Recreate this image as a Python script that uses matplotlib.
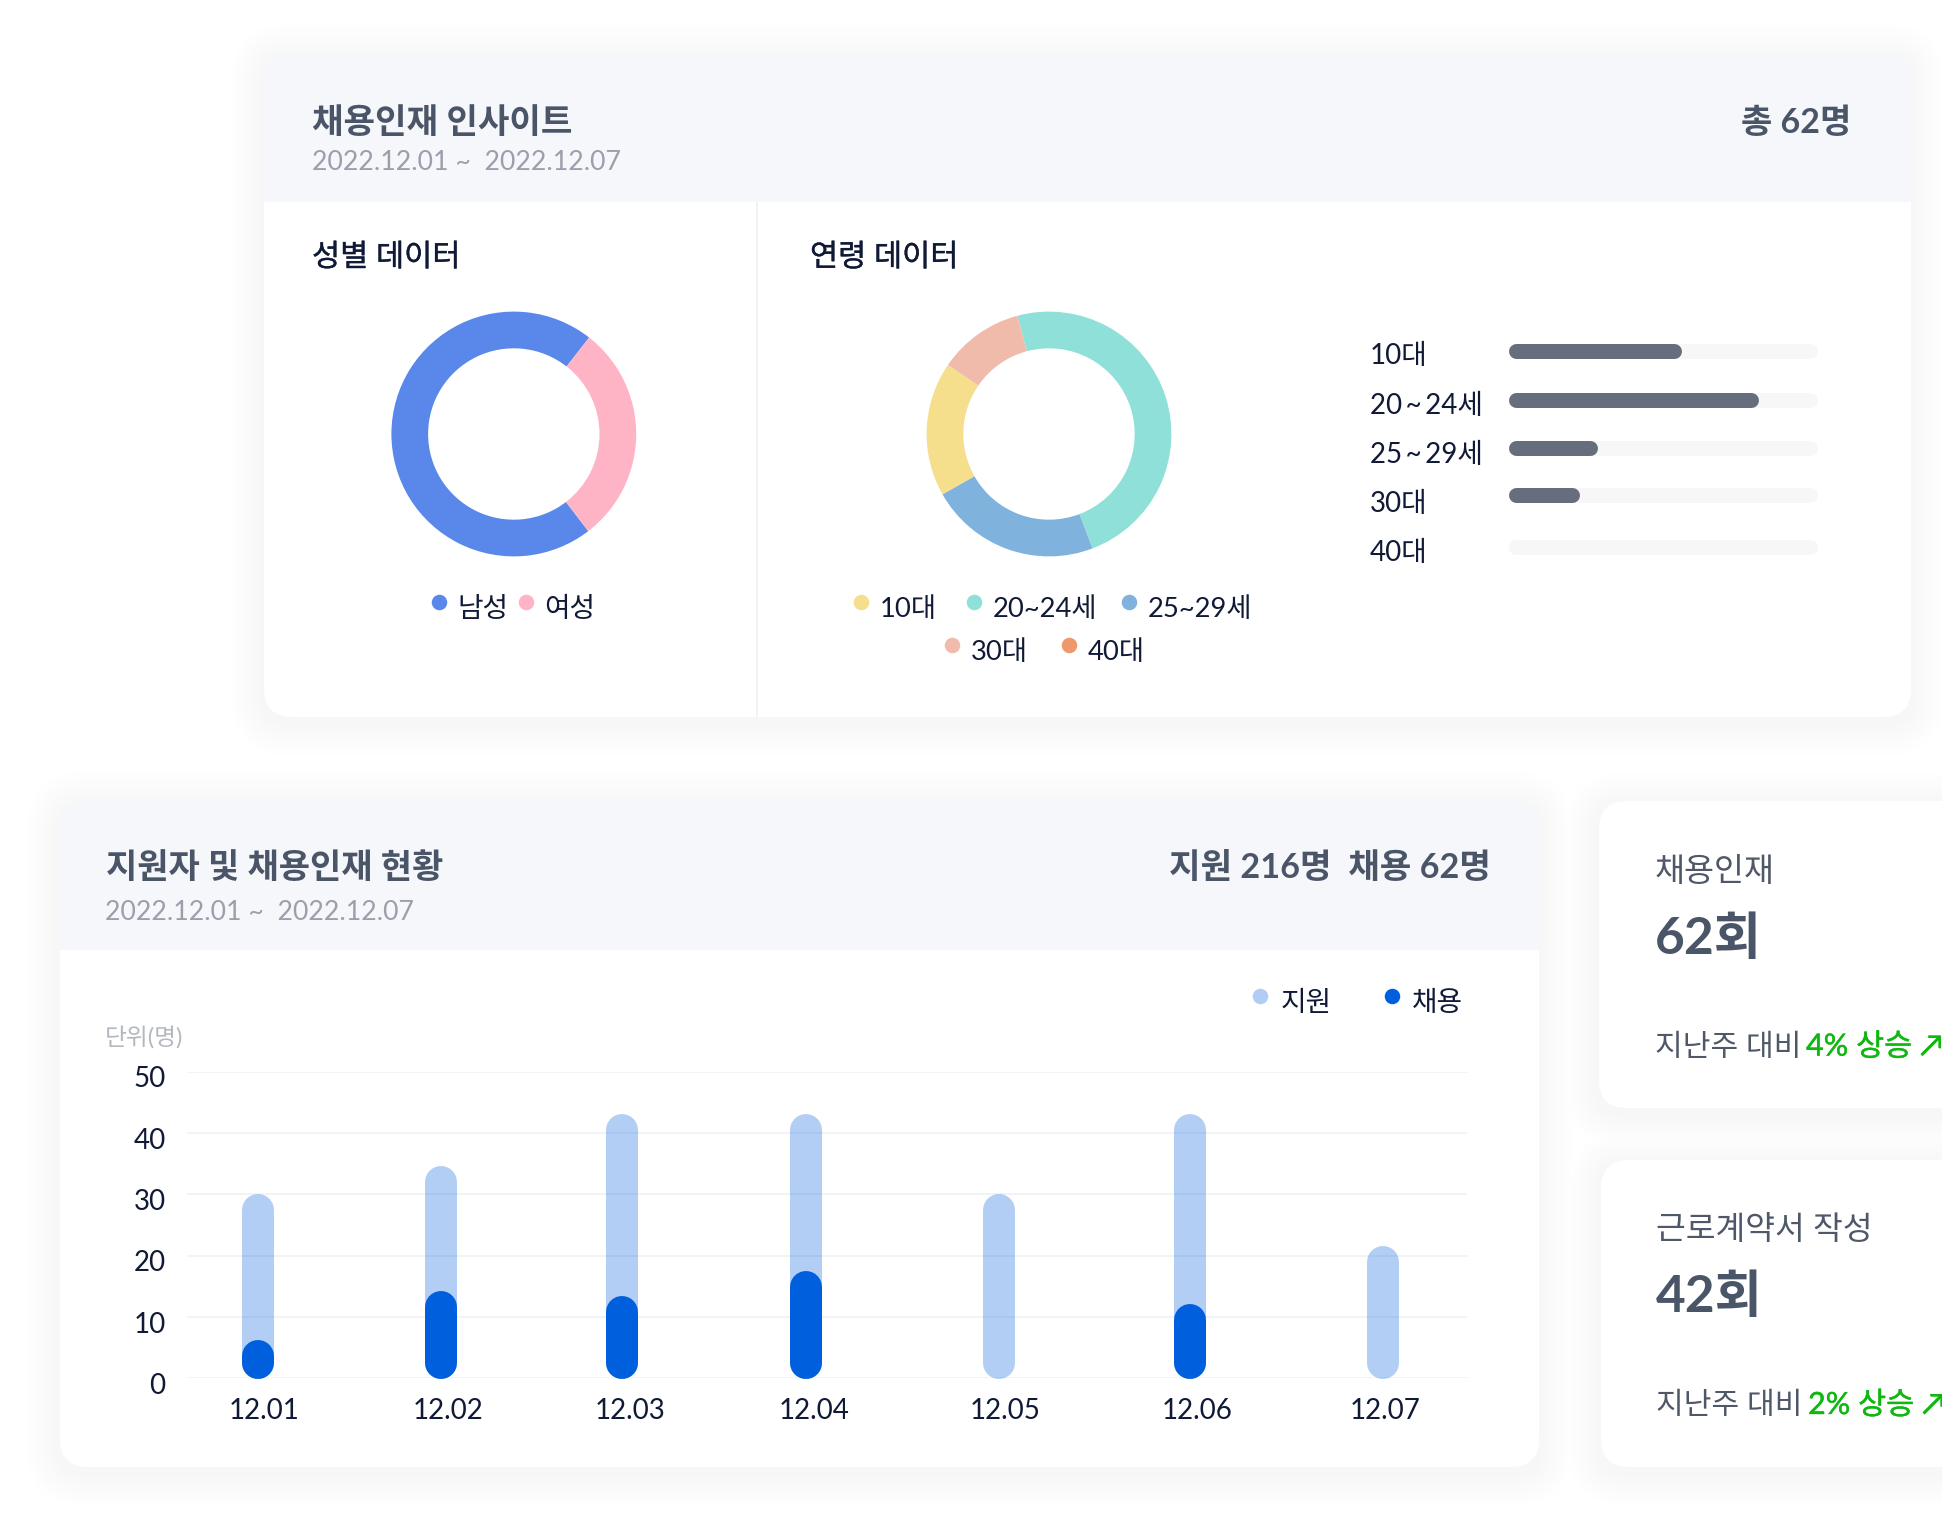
import matplotlib
matplotlib.use('Agg')
import matplotlib.pyplot as plt
import matplotlib.patheffects as pe
from matplotlib.patches import FancyBboxPatch, Rectangle
from matplotlib.transforms import ScaledTranslation

plt.rcParams['font.family'] = ['Lato', 'Noto Sans CJK KR', 'DejaVu Sans']

W, H = 1942, 1536
DPI = 100

# data
gender_labels = ['남성', '여성']
gender_counts = [44, 18]
age_labels = ['10대', '20~24세', '25~29세', '30대', '40대']
age_counts = [11, 30, 14, 7, 0]
age_bar_labels = ['10대', '20\u2009~\u200924세', '25\u2009~\u200929세', '30대', '40대']
age_bar_values = [56, 81, 29, 23, 0]
days = ['12.01', '12.02', '12.03', '12.04', '12.05', '12.06', '12.07']
applied = [30, 34.5, 43, 43, 30, 43, 21.5]
hired = [6.2, 14.2, 13.5, 17.5, 0, 12.1, 0]
y_ticks = [0, 10, 20, 30, 40, 50]

# colours
HEAD = '#f6f7fb'
TITLE = '#4a5568'
DARK = '#101a36'
GREY = '#9a9fac'
GREEN = '#0fb80f'
gender_colors = ['#5a88ea', '#ffb4c6']
age_colors = ['#f5de8c', '#8fe0d8', '#7fb2dd', '#f0bbab', '#ee996c']
BLUE = '#005fdd'
# shadow steps, outermost first
shadow_colors = ['#fefefe', '#fdfdfe', '#fcfcfd', '#fbfbfc', '#fafafb', '#f9f9fa', '#f8f8f9', '#f7f7f8']

# spacing in the picture is a bit uneven, these are small layout offsets
day_nudge = [0, -0.02, -0.054, -0.075, -0.046, -0.025, 0]
day_label_nudge = [0.035, 0.036, 0.038, 0.043, 0.032, 0.037, 0.015]
row_nudge = [0, 0, -0.02, -0.055, 0]

fig = plt.figure(figsize=(W / DPI, H / DPI), dpi=DPI, facecolor='white')
bg = fig.add_axes([0, 0, 1, 1])
bg.set_xlim(0, W)
bg.set_ylim(H, 0)
bg.axis('off')


def px(v):
    # pixels to points
    return v * 72 / DPI


def sub_axes(x0, y0, x1, y1):
    ax = fig.add_axes([x0 / W, 1 - y1 / H, (x1 - x0) / W, (y1 - y0) / H])
    ax.patch.set_alpha(0)
    return ax


def shadows(cards):
    # each step over all cards, so a darker step is never covered by a lighter one
    for i, color in enumerate(shadow_colors):
        grow = (len(shadow_colors) - i) * 4.2
        for x0, y0, x1, y1 in cards:
            bg.add_patch(FancyBboxPatch((x0 - grow, y0 - grow + 5), x1 - x0 + 2 * grow, y1 - y0 + 2 * grow,
                                        boxstyle=f'round,pad=0,rounding_size={28 + grow}',
                                        fc=color, ec='none', zorder=1))


def card(x0, y0, x1, y1, head_bottom=None):
    box = FancyBboxPatch((x0, y0), x1 - x0, y1 - y0, boxstyle='round,pad=0,rounding_size=28',
                         fc='white', ec='none', zorder=2)
    bg.add_patch(box)
    if head_bottom is not None:
        head = Rectangle((x0, y0), x1 - x0, head_bottom - y0, fc=HEAD, ec='none', zorder=3)
        bg.add_patch(head)
        head.set_clip_path(box)


def txt(x, y, s, size, color=DARK, weight='normal', ha='left', heavy=0):
    t = bg.text(x, y, s, fontsize=size, color=color, fontweight=weight, ha=ha, va='baseline', zorder=5)
    if heavy:
        # the reference hangul is a medium weight, thicken the regular one a little
        t.set_path_effects([pe.withStroke(linewidth=heavy, foreground=color)])


def dot(x, y, color):
    bg.scatter([x], [y], s=px(15.5) ** 2, color=color, linewidths=0, zorder=5)


shadows([(264, 52, 1911, 717), (60, 800, 1539, 1467), (1599, 801, 2100, 1108), (1601, 1160, 2100, 1467)])
card(264, 52, 1911, 717, 202)
card(60, 800, 1539, 1467, 950)
card(1599, 801, 2100, 1108)
card(1601, 1160, 2100, 1467)

# top card
bg.plot([757, 757], [202, 717], color='#f1f2f6', lw=px(2), zorder=4, solid_capstyle='butt')
txt(312, 132.5, '채용인재 인사이트', 24.7, TITLE, 'bold')
txt(312, 170, '2022.12.01 ~  2022.12.07', 19.2, GREY)
txt(1851, 132.5, '총 62명', 24.5, TITLE, 'bold', ha='right')
txt(312, 266, '성별 데이터', 22, DARK, heavy=0.25)
txt(810, 266, '연령 데이터', 22, DARK, heavy=0.25)

R = 122.4
ax = sub_axes(513.8 - R, 434 - R, 513.8 + R, 434 + R)
ax.pie(gender_counts, colors=gender_colors, startangle=52, radius=1,
       wedgeprops={'width': 0.3, 'linewidth': 0})
ax.set_xlim(-1, 1)
ax.set_ylim(-1, 1)

ax = sub_axes(1049 - R, 434 - R, 1049 + R, 434 + R)
order = [1, 2, 0, 3, 4]
ax.pie([age_counts[i] for i in order], colors=[age_colors[i] for i in order],
       startangle=105, counterclock=False, radius=1, wedgeprops={'width': 0.3, 'linewidth': 0})
ax.set_xlim(-1, 1)
ax.set_ylim(-1, 1)

for i, (dx, tx) in enumerate(zip([439.3, 526], [457, 544.5])):
    dot(dx, 602, gender_colors[i])
    txt(tx, 617, gender_labels[i], 20, DARK)

age_legend = [(860.7, 880, 602, 617), (973.5, 993, 602, 617), (1129, 1148, 602, 617),
              (951.5, 971, 645, 659.6), (1068.8, 1088, 645, 659.6)]
for i, (dx, tx, dy, ty) in enumerate(age_legend):
    dot(dx, dy, age_colors[i])
    txt(tx, ty, age_labels[i], 19.7, DARK)

# age progress bars
ax = sub_axes(1508, 326.2, 1817, 571.2)
ax.set_xlim(0, 100)
ax.set_ylim(4.5, -0.5)
ax.axis('off')
cap = 7.5 / 309 * 100
for i, v in enumerate(age_bar_values):
    row = i + row_nudge[i]
    ax.plot([cap, 100 - cap], [row, row], color='#f7f7f8', lw=px(15), solid_capstyle='round', clip_on=False)
    if v > 0:
        ax.plot([cap, v - cap], [row, row], color='#666e7d', lw=px(15), solid_capstyle='round', clip_on=False)
    txt(1370, 364.5 + 49.1 * i, age_bar_labels[i], 20, DARK)

# bottom card
txt(106, 878, '지원자 및 채용인재 현황', 24.5, TITLE, 'bold')
txt(105, 920, '2022.12.01 ~  2022.12.07', 19.2, GREY)
txt(1490.5, 878, '지원 216명  채용 62명', 24.7, TITLE, 'bold', ha='right')
txt(105, 1045, '단위(명)', 17.1, '#b3b7c0')
dot(1260, 996, '#b2cdf5')
txt(1280.5, 1011, '지원', 20, DARK)
dot(1391.8, 996, BLUE)
txt(1412, 1011, '채용', 20, DARK)

ax = sub_axes(187, 1071.7, 1467, 1378.4)
ax.set_xlim(-0.3765, 6.45)
ax.set_ylim(0, 50)
for s in ax.spines.values():
    s.set_visible(False)
ax.set_yticks(y_ticks)
ax.grid(axis='y', color='#f2f3f7', lw=px(2))
ax.set_axisbelow(True)
x = [i + n for i, n in enumerate(day_nudge)]
ax.set_xticks([p + n for p, n in zip(x, day_label_nudge)])
ax.set_xticklabels(days, fontsize=20, color=DARK)
ax.tick_params(axis='both', length=0)
ax.tick_params(axis='x', pad=14)
ax.tick_params(axis='y', pad=15.5, labelsize=20, labelcolor=DARK)
shift = ScaledTranslation(0, -5 / DPI, fig.dpi_scale_trans)
for label in ax.get_yticklabels():
    label.set_transform(label.get_transform() + shift)

r = 16 / (306.7 / 50)
for p, a, h in zip(x, applied, hired):
    ax.plot([p, p], [r - 0.12, a - r + 0.1], color=BLUE, alpha=0.3, lw=px(32), solid_capstyle='round',
            clip_on=False, zorder=3)
    if h > 0:
        ax.plot([p, p], [r - 0.12, h - r], color=BLUE, lw=px(32), solid_capstyle='round',
                clip_on=False, zorder=4)

# right cards
txt(1655, 880.5, '채용인재', 23.5, '#4f5868')
txt(1655, 954, '62회', 37, TITLE, 'bold')
txt(1655, 1055.6, '지난주 대비', 21.7, '#4f5868')
txt(1806, 1055.6, '4% 상승 ↗', 22, GREEN, heavy=0.3)
txt(1656, 1239, '근로계약서 작성', 23.3, '#4f5868')
txt(1656, 1312, '42회', 37, TITLE, 'bold')
txt(1656, 1414, '지난주 대비', 21.7, '#4f5868')
txt(1808, 1414, '2% 상승 ↗', 22, GREEN, heavy=0.3)

fig.savefig('out.png', dpi=DPI)
plt.close(fig)
